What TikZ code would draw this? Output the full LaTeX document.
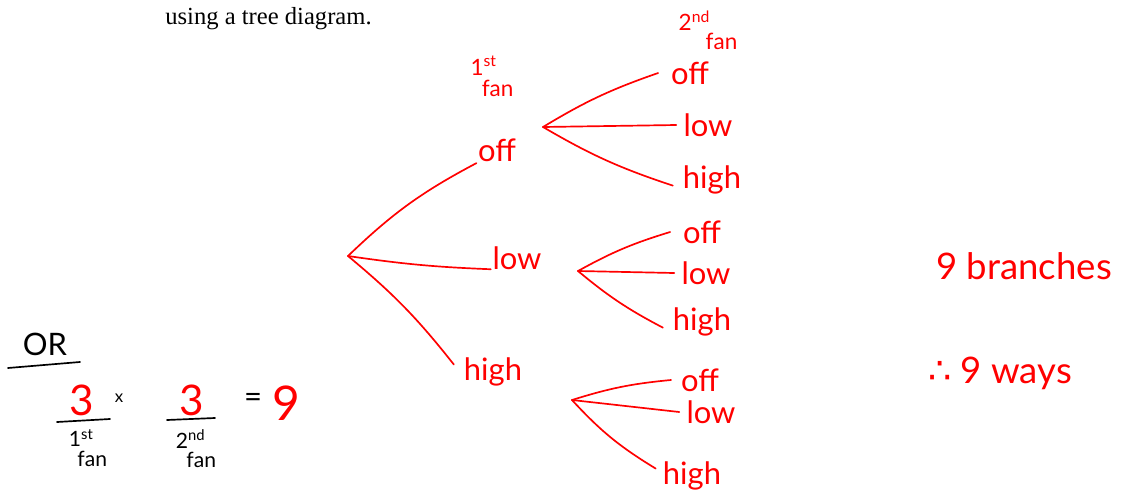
\documentclass[tikz,border=0pt]{standalone}
\usepackage{fontspec}
\setmainfont{Liberation Serif}
\setsansfont{Lato}
\newfontfamily\symfont{DejaVu Sans}
\usepackage{tikz}
\usetikzlibrary{positioning}

\begin{document}
\begin{tikzpicture}[x=0.025cm,y=-0.025cm,
  hw/.style={text=red,font=\sffamily\fontsize{22}{24}\selectfont,inner sep=1pt},
  hwsmall/.style={text=red,font=\sffamily\fontsize{16}{17}\selectfont,inner sep=1pt,align=left},
  ink/.style={text=black,font=\sffamily\fontsize{15}{16}\selectfont,inner sep=1pt,align=left},
  branch/.style={red,line width=1.2pt,line cap=round},
  pen/.style={black,line width=1.2pt,line cap=round}]

\useasboundingbox (0,0) rectangle (1121,495);

\node[anchor=base west,font=\fontsize{17.5}{19}\selectfont,inner sep=0pt] (head) at (165,24) {using a tree diagram.};

\node[hwsmall] (fan1) at (492,76) {1\textsuperscript{st}\\[-2pt]\hspace{0.5em}fan};
\node[hwsmall] (fan2) at (708,30) {2\textsuperscript{nd}\\[-4pt]\hspace{1.2em}fan};

\coordinate (root) at (348,256);
\node[hw] (off) at (497,150) {off};
\node[hw] (low) at (517,258) {low};
\node[hw] (high) at (493,372) {high};

\draw[branch] (root) to[bend left=8] (off.south west);
\draw[branch] (root) to[bend right=3] ([yshift=-8]low.west);
\draw[branch] (root) to[bend left=6] ([xshift=-6,yshift=-6]high.north west);

\coordinate (offfork) at (543,127);
\node[hw] (offoff) at (690,73) {off};
\node[hw] (offlow) at (708,125) {low};
\node[hw] (offhigh) at (712,180) {high};
\draw[branch] (offfork) to[bend left=6] ([xshift=-8]offoff.west);
\draw[branch] (offfork) -- ([xshift=-4]offlow.west);
\draw[branch] (offfork) to[bend right=6] ([xshift=-6,yshift=-4]offhigh.west);

\coordinate (lowfork) at (578,271);
\node[hw] (lowoff) at (702,232) {off};
\node[hw] (lowlow) at (706,273) {low};
\node[hw] (lowhigh) at (702,322) {high};
\draw[branch] (lowfork) to[bend left=6] ([xshift=-8]lowoff.west);
\draw[branch] (lowfork) -- ([xshift=-4]lowlow.west);
\draw[branch] (lowfork) to[bend right=6] ([xshift=-6,yshift=-4]lowhigh.west);

\coordinate (highfork) at (572,400);
\node[hw] (highoff) at (700,380) {off};
\node[hw] (highlow) at (711,412) {low};
\node[hw] (highhigh) at (692,476) {high};
\draw[branch] (highfork) to[bend left=6] ([xshift=-6]highoff.west);
\draw[branch] (highfork) -- ([xshift=-4]highlow.west);
\draw[branch] (highfork) to[bend right=8] ([xshift=-4,yshift=-6]highhigh.north west);

\node[hw,font=\sffamily\fontsize{26}{28}\selectfont] (branches) at (1024,266) {9 branches};
\node[hw,font=\sffamily\fontsize{26}{28}\selectfont] (ways) at (1000,373) {{\symfont ∴} 9 ways};

\node[ink,font=\sffamily\fontsize{22}{24}\selectfont] (or) at (45,344) {OR};
\coordinate (orl) at (8,368);
\coordinate (orr) at (80,362);
\draw[pen] (orl) -- (orr);

\node[hw,font=\sffamily\fontsize{30}{32}\selectfont] (num1) at (82,400) {3};
\node[ink,font=\sffamily\fontsize{12}{12}\selectfont] (times) at (119,398) {x};
\node[ink] (den1) at (88,448) {1\textsuperscript{st}\\[-2pt]\hspace{0.4em}fan};
\coordinate (bar1l) at (57,422);
\coordinate (bar1r) at (110,419);
\draw[pen] (bar1l) -- (bar1r);

\node[hw,font=\sffamily\fontsize{30}{32}\selectfont] (num2) at (192,400) {3};
\node[ink] (den2) at (196,449) {2\textsuperscript{nd}\\[-2pt]\hspace{0.5em}fan};
\coordinate (bar2l) at (167,420);
\coordinate (bar2r) at (215,418);
\draw[pen] (bar2l) -- (bar2r);

\node[ink,font=\sffamily\fontsize{22}{24}\selectfont] (eq) at (253,400) {=};
\node[hw,font=\sffamily\fontsize{34}{36}\selectfont] (nine) at (286,403) {9};

\end{tikzpicture}
\end{document}
